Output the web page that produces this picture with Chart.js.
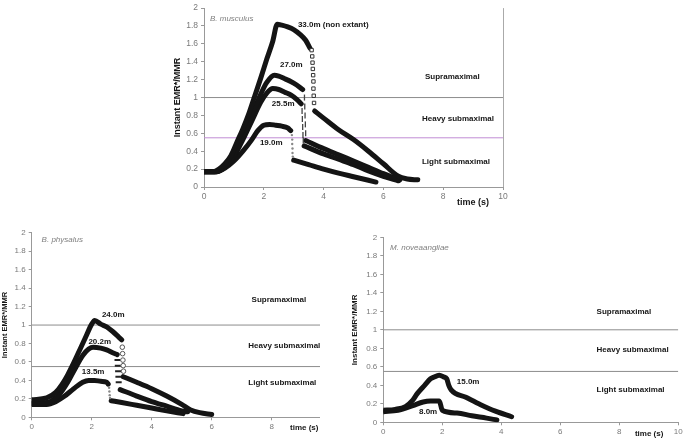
<!DOCTYPE html>
<html>
<head>
<meta charset="utf-8">
<script src="https://cdn.jsdelivr.net/npm/chart.js@4.4.1/dist/chart.umd.min.js"></script>
<style>
html,body{margin:0;padding:0;background:#fff;}
body{width:686px;height:441px;position:relative;overflow:hidden;}
.box{position:absolute;overflow:hidden;}
</style>
</head>
<body>
<div class="box" style="left:130px;top:0;width:400px;height:225px"><canvas id="musculus" width="400" height="225"></canvas></div>
<div class="box" style="left:0;top:225px;width:320px;height:216px"><canvas id="physalus" width="345" height="216"></canvas></div>
<div class="box" style="left:340px;top:225px;width:346px;height:216px"><canvas id="novae" width="346" height="216"></canvas></div>
<script>
const FONT = 'Liberation Sans, Arial, sans-serif';

// shared axes / zones
const xRange = [0, 10];
const yRange = [0, 2];
const zoneLevels = [1, 0.55];

// B. musculus
const mus33Time = [0, 0.3, 0.5, 0.7, 0.9, 1.1, 1.3, 1.5, 1.7, 1.9, 2.1, 2.3, 2.45, 2.6, 2.8, 3.0, 3.2, 3.4, 3.55];
const mus33Val  = [0.17, 0.17, 0.2, 0.26, 0.35, 0.5, 0.65, 0.82, 1.02, 1.22, 1.43, 1.63, 1.82, 1.81, 1.79, 1.76, 1.71, 1.64, 1.55];
const mus33DropTime = [3.6, 3.62, 3.63, 3.64, 3.65, 3.66, 3.66, 3.67, 3.68];
const mus33DropVal  = [1.53, 1.46, 1.39, 1.32, 1.25, 1.18, 1.1, 1.02, 0.94];
const mus33PostTime = [3.7, 4.0, 4.5, 5.0, 5.5, 6.0, 6.5, 6.8, 7.15];
const mus33PostVal  = [0.85, 0.77, 0.64, 0.53, 0.4, 0.26, 0.12, 0.09, 0.08];

const mus27Time = [0, 0.4, 0.7, 1.0, 1.3, 1.6, 1.9, 2.1, 2.35, 2.5, 2.7, 2.9, 3.1, 3.3];
const mus27Val  = [0.17, 0.17, 0.23, 0.36, 0.56, 0.8, 1.04, 1.17, 1.25, 1.24, 1.21, 1.18, 1.14, 1.09];
const mus27DropTime = [3.36, 3.37, 3.38, 3.39, 3.4];
const mus27DropVal  = [1.0, 0.9, 0.8, 0.7, 0.6];
const mus27PostTime = [3.4, 4.0, 4.5, 5.0, 5.5, 6.0, 6.55];
const mus27PostVal  = [0.52, 0.43, 0.36, 0.29, 0.22, 0.15, 0.08];

const mus25Time = [0, 0.4, 0.7, 1.0, 1.3, 1.6, 1.9, 2.1, 2.3, 2.5, 2.7, 2.9, 3.1, 3.25];
const mus25Val  = [0.17, 0.17, 0.22, 0.34, 0.53, 0.74, 0.95, 1.05, 1.1, 1.09, 1.06, 1.03, 0.98, 0.93];
const mus25DropTime = [3.28, 3.29, 3.3, 3.31, 3.32];
const mus25DropVal  = [0.85, 0.76, 0.67, 0.58, 0.52];
const mus25PostTime = [3.35, 4.0, 4.5, 5.0, 5.5, 6.0, 6.5];
const mus25PostVal  = [0.46, 0.37, 0.31, 0.25, 0.18, 0.12, 0.07];

const mus19Time = [0, 0.4, 0.7, 1.0, 1.3, 1.6, 1.8, 2.0, 2.2, 2.4, 2.6, 2.8, 2.9];
const mus19Val  = [0.17, 0.17, 0.21, 0.29, 0.4, 0.53, 0.63, 0.69, 0.7, 0.69, 0.68, 0.66, 0.63];
const mus19DropTime = [2.94, 2.95, 2.95, 2.96, 2.96, 2.97];
const mus19DropVal  = [0.58, 0.53, 0.48, 0.43, 0.38, 0.34];
const mus19PostTime = [3.0, 3.5, 4.0, 4.5, 5.0, 5.5, 5.75];
const mus19PostVal  = [0.3, 0.25, 0.2, 0.155, 0.115, 0.075, 0.055];

// B. physalus
const phy24Time = [0, 0.5, 0.8, 1.0, 1.2, 1.4, 1.6, 1.8, 2.0, 2.1, 2.3, 2.5, 2.7, 2.9, 3.0];
const phy24Val  = [0.19, 0.21, 0.27, 0.35, 0.46, 0.59, 0.73, 0.87, 1.01, 1.05, 1.01, 0.98, 0.93, 0.87, 0.84];
const phy24DropTime = [3.02, 3.03, 3.04, 3.05, 3.06];
const phy24DropVal  = [0.76, 0.69, 0.62, 0.56, 0.5];
const phy24PostTime = [3.05, 3.5, 4.0, 4.5, 5.0, 5.3, 5.6, 6.0];
const phy24PostVal  = [0.44, 0.38, 0.31, 0.23, 0.14, 0.08, 0.05, 0.03];

const phy20Time = [0, 0.5, 0.9, 1.2, 1.45, 1.7, 1.9, 2.05, 2.3, 2.5, 2.7, 2.85];
const phy20Val  = [0.15, 0.16, 0.24, 0.38, 0.53, 0.67, 0.74, 0.76, 0.75, 0.73, 0.7, 0.68];
const phy20DropTime = [2.86, 2.87, 2.88, 2.89, 2.9];
const phy20DropVal  = [0.62, 0.56, 0.5, 0.44, 0.38];
const phy20PostTime = [2.95, 3.5, 4.0, 4.5, 5.0, 5.2];
const phy20PostVal  = [0.3, 0.23, 0.17, 0.12, 0.07, 0.06];

const phy13Time = [0, 0.5, 0.8, 1.1, 1.4, 1.7, 1.9, 2.1, 2.3, 2.5, 2.55];
const phy13Val  = [0.14, 0.14, 0.17, 0.23, 0.31, 0.38, 0.4, 0.4, 0.39, 0.38, 0.36];
const phy13DropTime = [2.58, 2.59, 2.6, 2.61];
const phy13DropVal  = [0.32, 0.28, 0.24, 0.21];
const phy13PostTime = [2.65, 3.0, 3.5, 4.0, 4.5, 5.05];
const phy13PostVal  = [0.18, 0.16, 0.13, 0.1, 0.07, 0.04];

// M. noveaangliae
const nov15Time = [0, 0.4, 0.75, 1.0, 1.15, 1.4, 1.6, 1.8, 1.9, 2.05, 2.15, 2.22, 2.3, 2.8, 3.3, 3.8, 4.35];
const nov15Val  = [0.13, 0.14, 0.17, 0.24, 0.31, 0.4, 0.47, 0.5, 0.51, 0.49, 0.47, 0.4, 0.35, 0.27, 0.19, 0.12, 0.06];
const nov8Time = [0, 0.5, 1.0, 1.35, 1.6, 1.9, 2.0, 2.5, 3.0, 3.5, 3.85];
const nov8Val  = [0.115, 0.13, 0.18, 0.22, 0.23, 0.23, 0.13, 0.1, 0.07, 0.045, 0.025];

function pts(ts, vs) {
  return ts.map((t, i) => ({x: t, y: vs[i]}));
}

function band(ts, vs) {
  return {
    data: pts(ts, vs),
    borderColor: '#141414',
    borderWidth: 5,
    pointRadius: 0,
    cubicInterpolationMode: 'monotone',
    borderCapStyle: 'round',
    borderJoinStyle: 'round',
    order: 1
  };
}

function drops(ts, vs, style) {
  return Object.assign({
    data: pts(ts, vs),
    showLine: false,
    order: 0
  }, style);
}

function level(v, color) {
  return {
    data: [{x: xRange[0], y: v}, {x: xRange[1], y: v}],
    borderColor: color,
    borderWidth: 1,
    pointRadius: 0,
    order: 5
  };
}

// text notes placed on the chart through the scales
function notes(items, rightBorder) {
  return {
    id: 'notes',
    afterDraw(chart) {
      const {ctx, chartArea} = chart;
      const x = chart.scales.x, y = chart.scales.y;
      ctx.save();
      if (rightBorder) {
        ctx.strokeStyle = '#aaa';
        ctx.lineWidth = 1;
        ctx.beginPath();
        ctx.moveTo(Math.round(chartArea.right) + 0.5, chartArea.top);
        ctx.lineTo(Math.round(chartArea.right) + 0.5, chartArea.bottom);
        ctx.stroke();
      }
      ctx.textAlign = 'left';
      ctx.textBaseline = 'middle';
      items.forEach(it => {
        ctx.font = it.font || ('bold 8px ' + FONT);
        ctx.fillStyle = it.color || '#161616';
        ctx.fillText(it.text, x.getPixelForValue(it.x), y.getPixelForValue(it.y));
      });
      ctx.restore();
    }
  };
}

function plainNum(v) {
  return String(Math.round(v * 10) / 10);
}

function axes(p) {
  const tickFont = {family: FONT, size: p.tickSize};
  return {
    x: {
      type: 'linear', min: xRange[0], max: xRange[1],
      ticks: {stepSize: 2, color: '#7a7a7a', font: tickFont, padding: 2, maxRotation: 0, callback: plainNum},
      grid: {drawOnChartArea: false, drawTicks: true, tickLength: 3, color: '#999'},
      border: {color: '#999'},
      afterFit: s => { s.height = p.xh; }
    },
    y: {
      min: yRange[0], max: yRange[1],
      ticks: {stepSize: 0.2, color: '#7a7a7a', font: tickFont, padding: 3, callback: plainNum},
      grid: {drawOnChartArea: false, drawTicks: true, tickLength: 3, color: '#999'},
      border: {color: '#999'},
      title: {
        display: true, text: 'Instant EMR*/MMR', color: '#161616', padding: 0,
        font: {family: FONT, size: p.titleSize, weight: 'bold'}
      },
      afterFit: s => { s.width = p.yw; }
    }
  };
}

function makeChart(id, datasets, p, items, rightBorder) {
  return new Chart(document.getElementById(id), {
    type: 'line',
    data: {datasets: datasets},
    options: {
      responsive: false,
      animation: false,
      events: [],
      layout: {padding: p.pad},
      plugins: {legend: {display: false}, tooltip: {enabled: false}},
      scales: axes(p)
    },
    plugins: [notes(items, rightBorder)]
  });
}

const italic = 'italic 8px ' + FONT;
const grayText = '#808080';
const timeFont = 'bold 9px ' + FONT;

// TOP: B. musculus
makeChart('musculus', [
  level(zoneLevels[0], '#8c8c8c'),
  level(zoneLevels[1], '#c08cd4'),
  band(mus33Time, mus33Val),
  band(mus33PostTime, mus33PostVal),
  drops(mus33DropTime, mus33DropVal, {pointStyle: 'rect', pointRadius: 2.4, borderWidth: 1, borderColor: '#333', backgroundColor: '#fff'}),
  band(mus27Time, mus27Val),
  band(mus27PostTime, mus27PostVal),
  drops(mus27DropTime, mus27DropVal, {pointStyle: 'line', rotation: 90, pointRadius: 3, borderWidth: 1.3, borderColor: '#444'}),
  band(mus25Time, mus25Val),
  band(mus25PostTime, mus25PostVal),
  drops(mus25DropTime, mus25DropVal, {pointStyle: 'line', rotation: 90, pointRadius: 3, borderWidth: 1.3, borderColor: '#444'}),
  band(mus19Time, mus19Val),
  band(mus19PostTime, mus19PostVal),
  drops(mus19DropTime, mus19DropVal, {pointStyle: 'circle', pointRadius: 1.2, borderWidth: 0, backgroundColor: '#888'})
], {pad: {left: 42, right: 27, top: 6, bottom: 18}, yw: 32, xh: 20, tickSize: 8.5, titleSize: 9}, [
  {text: 'B. musculus', x: 0.2, y: 1.88, font: italic, color: grayText},
  {text: '33.0m (non extant)', x: 3.14, y: 1.81},
  {text: '27.0m', x: 2.54, y: 1.37},
  {text: '25.5m', x: 2.27, y: 0.93},
  {text: '19.0m', x: 1.87, y: 0.49},
  {text: 'Supramaximal', x: 7.39, y: 1.23},
  {text: 'Heavy submaximal', x: 7.29, y: 0.76},
  {text: 'Light submaximal', x: 7.29, y: 0.28},
  {text: 'time (s)', x: 8.46, y: -0.17, font: timeFont}
], true);

// BOTTOM LEFT: B. physalus
makeChart('physalus', [
  level(zoneLevels[0], '#8c8c8c'),
  level(zoneLevels[1], '#8c8c8c'),
  band(phy24Time, phy24Val),
  band(phy24PostTime, phy24PostVal),
  drops(phy24DropTime, phy24DropVal, {pointStyle: 'circle', pointRadius: 2.3, borderWidth: 1, borderColor: '#555', backgroundColor: '#fff'}),
  band(phy20Time, phy20Val),
  band(phy20PostTime, phy20PostVal),
  drops(phy20DropTime, phy20DropVal, {pointStyle: 'line', pointRadius: 3, borderWidth: 2, borderColor: '#222'}),
  band(phy13Time, phy13Val),
  band(phy13PostTime, phy13PostVal),
  drops(phy13DropTime, phy13DropVal, {pointStyle: 'circle', pointRadius: 1.2, borderWidth: 0, backgroundColor: '#888'})
], {pad: {left: 0, right: 13.3, top: 7.3, bottom: 3.7}, yw: 31.7, xh: 20, tickSize: 8, titleSize: 7.5}, [
  {text: 'B. physalus', x: 0.33, y: 1.92, font: italic, color: grayText},
  {text: '24.0m', x: 2.34, y: 1.11},
  {text: '20.2m', x: 1.89, y: 0.82},
  {text: '13.5m', x: 1.67, y: 0.49},
  {text: 'Supramaximal', x: 7.33, y: 1.27},
  {text: 'Heavy submaximal', x: 7.22, y: 0.77},
  {text: 'Light submaximal', x: 7.22, y: 0.37},
  {text: 'time (s)', x: 8.61, y: -0.11, font: 'bold 8px ' + FONT}
], false);

// BOTTOM RIGHT: M. noveaangliae
makeChart('novae', [
  level(zoneLevels[0], '#8c8c8c'),
  level(zoneLevels[1], '#8c8c8c'),
  band(nov15Time, nov15Val),
  band(nov8Time, nov8Val)
], {pad: {left: 10.2, right: 7.7, top: 12.3, bottom: 0.7}, yw: 33.1, xh: 18, tickSize: 8, titleSize: 8}, [
  {text: 'M. noveaangliae', x: 0.23, y: 1.89, font: italic, color: grayText},
  {text: '15.0m', x: 2.49, y: 0.44},
  {text: '8.0m', x: 1.21, y: 0.11},
  {text: 'Supramaximal', x: 7.23, y: 1.2},
  {text: 'Heavy submaximal', x: 7.23, y: 0.78},
  {text: 'Light submaximal', x: 7.23, y: 0.35},
  {text: 'time (s)', x: 8.53, y: -0.12, font: 'bold 8px ' + FONT}
], false);
</script>
</body>
</html>
